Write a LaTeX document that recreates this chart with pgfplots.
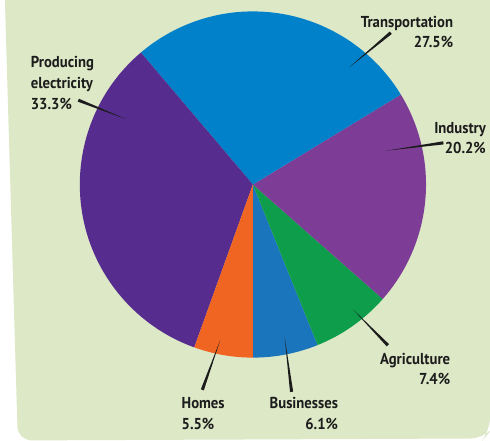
\documentclass[border=0pt]{standalone}
\usepackage{pgfplots}
\pgfplotsset{compat=1.18}
\usepackage{pgfplotstable}
\usetikzlibrary{calc}
\usepackage{fontspec}
\setmainfont{PT Sans}[FakeStretch=0.93]

\definecolor{panel}{RGB}{221,232,198}
\definecolor{labeltext}{RGB}{28,28,28}
\definecolor{pie0}{RGB}{27,117,188}  % Businesses
\definecolor{pie1}{RGB}{13,157,75}   % Agriculture
\definecolor{pie2}{RGB}{125,61,151}  % Industry
\definecolor{pie3}{RGB}{0,129,201}   % Transportation
\definecolor{pie4}{RGB}{86,44,142}   % Producing electricity
\definecolor{pie5}{RGB}{241,101,34}  % Homes

% shares in percent, counterclockwise from the bottom
\pgfplotstableread{
sector pct
Businesses 6.1
Agriculture 7.4
Industry 20.2
Transportation 27.5
Electricity 33.3
Homes 5.5
}\piedata

% tapered leader line: thin at #1, thick at #2
\newcommand\leader[2]{%
  \fill[labeltext] (axis cs:#1) -- ($(axis cs:#2)!1.6pt!90:(axis cs:#1)$)
    -- ($(axis cs:#2)!1.6pt!-90:(axis cs:#1)$) -- cycle;}

\begin{document}
\xdef\cumangle{-90}
\pgfplotstableforeachcolumnelement{pct}\of\piedata\as\pctval{%
  \pgfmathsetmacro\nextangle{\cumangle+3.6*\pctval}%
  \expandafter\xdef\csname sa\pgfplotstablerow\endcsname{\cumangle}%
  \expandafter\xdef\csname ea\pgfplotstablerow\endcsname{\nextangle}%
  \xdef\cumangle{\nextangle}%
}
\begin{tikzpicture}[
  lbl/.style={font=\bfseries\fontsize{16}{19}\selectfont, text=labeltext, inner sep=0pt},
]
\begin{axis}[
  scale only axis,
  width=490bp, height=447bp,
  xmin=0, xmax=490, ymin=0, ymax=447,
  hide axis, clip=false,
]
% background panel
\fill[panel, rounded corners=14bp] (axis cs:1,447) -- (axis cs:14,3) -- (axis cs:484,5)
  -- (axis cs:490,12) [sharp corners] -- (axis cs:490,447) -- cycle;

% wedges
\pgfplotsinvokeforeach{0,...,5}{
  \fill[pie#1] (axis cs:251,261) -- ++(\csname sa#1\endcsname:174.5bp)
    arc[start angle=\csname sa#1\endcsname, end angle=\csname ea#1\endcsname, radius=174.5bp] -- cycle;
}

% leader lines
\leader{348,379}{390,414}
\leader{385,295}{443,303}
\leader{352,135}{387,99}
\leader{283,107}{290,52}
\leader{218,104}{200,54}
\leader{123,327}{75,346}

% labels
\node[lbl, anchor=base east] at (axis cs:453,419) {Transportation};
\node[lbl, anchor=base east] at (axis cs:453,399) {27.5\%};
\node[lbl, anchor=base east] at (axis cs:486,312) {Industry};
\node[lbl, anchor=base east] at (axis cs:486,292) {20.2\%};
\node[lbl, anchor=base west] at (axis cs:27,379) {Producing};
\node[lbl, anchor=base west] at (axis cs:27,358) {electricity};
\node[lbl, anchor=base west] at (axis cs:27,337) {33.3\%};
\node[lbl, anchor=base east] at (axis cs:450,80) {Agriculture};
\node[lbl, anchor=base east] at (axis cs:450,59) {7.4\%};
\node[lbl, anchor=base west] at (axis cs:179,35) {Homes};
\node[lbl, anchor=base west] at (axis cs:179,14) {5.5\%};
\node[lbl, anchor=base east] at (axis cs:337,35) {Businesses};
\node[lbl, anchor=base east] at (axis cs:337,14) {6.1\%};
\end{axis}
\end{tikzpicture}
\end{document}
